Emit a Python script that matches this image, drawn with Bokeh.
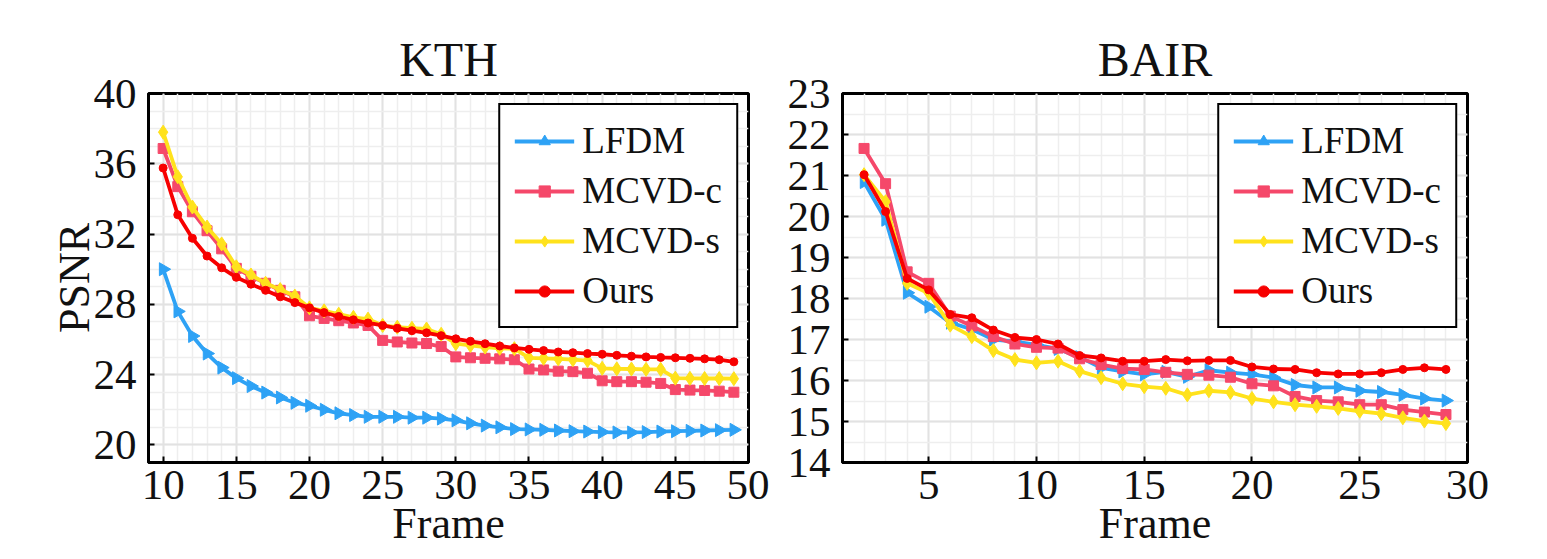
import math
from bokeh.plotting import figure
from bokeh.layouts import row
from bokeh.models import Range1d, FixedTicker, Legend, LegendItem
from bokeh.embed import file_html
from bokeh.resources import INLINE

# ---------------- data ----------------
series_names = ["LFDM", "MCVD-c", "MCVD-s", "Ours"]

kth_frames = list(range(10, 50))
kth_lfdm = [30.0, 27.6, 26.2, 25.2, 24.4, 23.8, 23.35, 22.98, 22.7, 22.4,
            22.23, 22.0, 21.8, 21.7, 21.6, 21.6, 21.6, 21.55, 21.55, 21.5,
            21.4, 21.23, 21.1, 21.0, 20.9, 20.88, 20.86, 20.82, 20.78, 20.76,
            20.73, 20.71, 20.71, 20.73, 20.76, 20.78, 20.8, 20.82, 20.84, 20.86]
kth_mcvd_c = [36.87, 34.7, 33.27, 32.19, 31.16, 30.05, 29.6, 29.2, 28.8, 28.43,
              27.35, 27.2, 27.07, 26.94, 26.8, 25.95, 25.86, 25.8, 25.77, 25.6,
              25.01, 24.96, 24.93, 24.9, 24.85, 24.32, 24.27, 24.2, 24.17, 24.08,
              23.65, 23.6, 23.6, 23.57, 23.5, 23.15, 23.12, 23.1, 23.06, 23.0]
kth_mcvd_s = [37.8, 35.26, 33.54, 32.4, 31.44, 30.14, 29.67, 29.2, 28.84, 28.47,
              27.8, 27.63, 27.44, 27.26, 27.16, 26.8, 26.7, 26.64, 26.6, 26.3,
              25.76, 25.66, 25.57, 25.5, 25.48, 24.96, 24.93, 24.9, 24.85, 24.8,
              24.36, 24.33, 24.32, 24.3, 24.3, 23.8, 23.79, 23.78, 23.78, 23.77]
kth_ours = [35.76, 33.1, 31.76, 30.75, 30.08, 29.54, 29.15, 28.8, 28.43, 28.1,
            27.8, 27.53, 27.31, 27.12, 26.94, 26.8, 26.64, 26.5, 26.38, 26.22,
            26.04, 25.9, 25.76, 25.63, 25.52, 25.44, 25.37, 25.29, 25.25, 25.2,
            25.16, 25.1, 25.05, 25.01, 24.98, 24.96, 24.93, 24.9, 24.85, 24.73]

bair_frames = list(range(2, 30))
bair_lfdm = [20.84, 19.92, 18.14, 17.8, 17.41, 17.25, 17.0, 16.95, 16.87, 16.77,
             16.57, 16.31, 16.22, 16.15, 16.21, 16.09, 16.25, 16.19, 16.15, 16.07,
             15.89, 15.83, 15.83, 15.75, 15.72, 15.65, 15.56, 15.51]
bair_mcvd_c = [21.66, 20.8, 18.65, 18.37, 17.57, 17.33, 17.07, 16.89, 16.81, 16.79,
               16.53, 16.39, 16.29, 16.27, 16.2, 16.15, 16.13, 16.08, 15.92, 15.87,
               15.61, 15.51, 15.48, 15.41, 15.41, 15.29, 15.23, 15.17]
bair_mcvd_s = [21.02, 20.36, 18.37, 18.13, 17.35, 17.07, 16.73, 16.51, 16.43, 16.47,
               16.23, 16.07, 15.92, 15.85, 15.81, 15.65, 15.75, 15.71, 15.56, 15.48,
               15.41, 15.37, 15.32, 15.25, 15.19, 15.09, 15.01, 14.95]
bair_ours = [21.02, 20.12, 18.49, 18.21, 17.61, 17.53, 17.23, 17.05, 17.0, 16.89,
             16.61, 16.55, 16.47, 16.47, 16.51, 16.48, 16.49, 16.49, 16.33, 16.28,
             16.27, 16.19, 16.16, 16.16, 16.19, 16.27, 16.31, 16.27]

kth_xticks = [10, 15, 20, 25, 30, 35, 40, 45, 50]
kth_yticks = [20, 24, 28, 32, 36, 40]
bair_xticks = [5, 10, 15, 20, 25, 30]
bair_yticks = [14, 15, 16, 17, 18, 19, 20, 21, 22, 23]

# ---------------- style ----------------
FONT = "Liberation Serif"
colors = ["#2ea2f5", "#f5486a", "#ffe21c", "#f70000"]
markers = ["triangle", "square", "diamond", "circle"]
angles = [-90, 0, 0, 0]
msizes = [13, 10, 14, 8]


def make_panel(title, frames, ys, xr, yr, xticks, yticks, xminor, yminor,
               width, height, bl, br, ylabel):
    p = figure(width=width, height=height, output_backend="svg",
               toolbar_location=None, x_range=Range1d(*xr), y_range=Range1d(*yr),
               min_border_left=bl, min_border_right=br, min_border_top=93,
               min_border_bottom=83)
    p.title.text = title
    p.title.align = "center"
    p.title.text_font = FONT
    p.title.text_font_size = "48px"
    p.title.text_font_style = "normal"
    p.title.text_color = "#111111"
    p.title.standoff = 15

    p.outline_line_color = "black"
    p.outline_line_width = 3
    p.outline_line_alpha = 1.0
    p.background_fill_color = "white"
    p.border_fill_color = "white"

    for ax in (p.xaxis[0], p.yaxis[0]):
        ax.axis_line_color = "black"
        ax.axis_line_width = 3
        ax.major_tick_in = 6
        ax.major_tick_out = 0
        ax.major_tick_line_color = "black"
        ax.major_tick_line_width = 2
        ax.minor_tick_line_color = None
        ax.major_label_text_font = FONT
        ax.major_label_text_font_size = "43px"
        ax.major_label_text_color = "#111111"
        ax.axis_label_text_font = FONT
        ax.axis_label_text_font_size = "44px"
        ax.axis_label_text_font_style = "normal"
        ax.axis_label_text_color = "#111111"

    p.xaxis[0].ticker = FixedTicker(ticks=xticks, minor_ticks=xminor)
    p.yaxis[0].ticker = FixedTicker(ticks=yticks, minor_ticks=yminor)
    p.xaxis[0].axis_label = "Frame"
    p.xaxis[0].major_label_standoff = 4
    p.xaxis[0].axis_label_standoff = -3
    p.yaxis[0].axis_label = ylabel
    p.yaxis[0].major_label_standoff = 8
    p.yaxis[0].axis_label_standoff = -8

    for g in (p.xgrid[0], p.ygrid[0]):
        g.grid_line_color = "#e2e2e2"
        g.grid_line_width = 2
        g.minor_grid_line_color = "#eeeeee"
        g.minor_grid_line_width = 1.5

    items = []
    for name, y, c, m, a, s in zip(series_names, ys, colors, markers, angles, msizes):
        ln = p.line(frames, y, line_color=c, line_width=3.8)
        sc = p.scatter(frames, y, marker=m, size=s, angle=a, angle_units="deg",
                       fill_color=c, line_color=c)
        items.append(LegendItem(label=name, renderers=[ln, sc]))

    leg = Legend(items=items, location="top_right")
    leg.label_text_font = FONT
    leg.label_text_font_size = "37px"
    leg.label_text_color = "#111111"
    leg.glyph_width = 60
    leg.glyph_height = 28
    leg.label_height = 40
    leg.spacing = 7
    leg.padding = 14
    leg.margin = 10
    leg.label_standoff = 8
    leg.border_line_color = "black"
    leg.border_line_width = 2.5
    leg.border_line_alpha = 1.0
    leg.background_fill_color = "white"
    leg.background_fill_alpha = 1.0
    p.add_layout(leg)
    return p


p1 = make_panel("KTH", kth_frames,
                [kth_lfdm, kth_mcvd_c, kth_mcvd_s, kth_ours],
                (9, 50), (19, 40), kth_xticks, kth_yticks,
                list(range(9, 51)), list(range(19, 41)),
                769, 550, 148, 21, "PSNR")
p2 = make_panel("BAIR", bair_frames,
                [bair_lfdm, bair_mcvd_c, bair_mcvd_s, bair_ours],
                (1, 30), (14, 23), bair_xticks, bair_yticks,
                list(range(1, 31)), [14 + 0.5 * i for i in range(19)],
                770, 550, 73, 72, "")

layout = row(p1, p2)
open("out.html", "w").write(file_html(layout, INLINE))
